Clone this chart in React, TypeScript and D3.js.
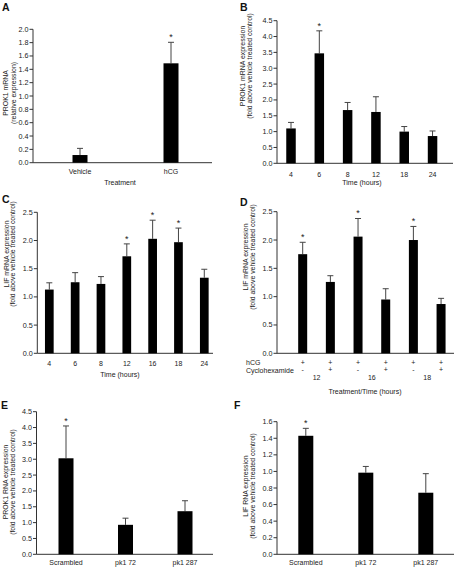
import React from "react";
import * as d3 from "d3";

// ---------- data ----------
const catA = ["Vehicle", "hCG"];
const valA = [0.115, 1.49];
const errA = [0.1, 0.315];
const sigA = [false, true];

const catB = ["4", "6", "8", "12", "18", "24"];
const valB = [1.1, 3.47, 1.68, 1.62, 1.0, 0.86];
const errB = [0.19, 0.71, 0.24, 0.48, 0.16, 0.16];
const sigB = [false, true, false, false, false, false];

const catC = ["4", "6", "8", "12", "16", "18", "24"];
const valC = [1.13, 1.26, 1.23, 1.72, 2.03, 1.97, 1.34];
const errC = [0.12, 0.17, 0.13, 0.22, 0.33, 0.25, 0.15];
const sigC = [false, false, false, true, true, true, false];

const catD = ["d1", "d2", "d3", "d4", "d5", "d6"];
const valD = [1.75, 1.26, 2.06, 0.95, 2.0, 0.87];
const errD = [0.21, 0.11, 0.32, 0.19, 0.24, 0.1];
const sigD = [true, false, true, false, true, false];
const hcgRow = ["+", "+", "+", "+", "+", "+"];
const cycloRow = ["-", "+", "-", "+", "-", "+"];
const timeD = ["12", "16", "18"];

const catE = ["Scrambled", "pk1 72", "pk1 287"];
const valE = [3.03, 0.93, 1.36];
const errE = [1.02, 0.21, 0.33];
const sigE = [true, false, false];

const catF = ["Scrambled", "pk1 72", "pk1 287"];
const valF = [1.43, 0.985, 0.743];
const errF = [0.09, 0.075, 0.23];
const sigF = [true, false, false];

// ---------- layout ----------
type Spec = {
  letter: string; lx: number; ly: number;
  cats: string[]; vals: number[]; errs: number[]; sig: boolean[];
  yMax: number; step: number;
  ax: number; axEnd: number; yTop: number; yBottom: number;
  r0: number; r1: number; bw: number;
  showCats: boolean; catY: number;
  title?: string; titleX: number; titleY: number;
  ylab: string[]; ylx: number[]; ylCy: number;
};

const FONT = "'Liberation Sans', Arial, Helvetica, sans-serif";
const TXT = "#222";

const panels: Spec[] = [
  {
    letter: "A", lx: 2, ly: 6.5, cats: catA, vals: valA, errs: errA, sig: sigA,
    yMax: 2.0, step: 0.2, ax: 33, axEnd: 212, yTop: 29.3, yBottom: 162.7,
    r0: 34.5, r1: 216.5, bw: 15, showCats: true, catY: 171.7,
    title: "Treatment", titleX: 120, titleY: 182,
    ylab: ["PROK1 mRNA", "(relative expression)"], ylx: [5.5, 13], ylCy: 93,
  },
  {
    letter: "B", lx: 240, ly: 6.8, cats: catB, vals: valB, errs: errB, sig: sigB,
    yMax: 4.5, step: 0.5, ax: 277, axEnd: 453, yTop: 20.7, yBottom: 163.3,
    r0: 276.85, r1: 446.7, bw: 9.5, showCats: true, catY: 174,
    title: "Time (hours)", titleX: 362, titleY: 182.7,
    ylab: ["PROK1 mRNA expression", "(fold above vehicle treated control)"], ylx: [242, 249.3], ylCy: 66,
  },
  {
    letter: "C", lx: 2, ly: 198.5, cats: catC, vals: valC, errs: errC, sig: sigC,
    yMax: 2.5, step: 0.5, ax: 37.3, axEnd: 213, yTop: 212.3, yBottom: 353.3,
    r0: 36.4, r1: 217.2, bw: 8.7, showCats: true, catY: 363.5,
    title: "Time (hours)", titleX: 120, titleY: 374,
    ylab: ["LIF mRNA expression", "(fold above vehicle treated control)"], ylx: [6, 12.8], ylCy: 254,
  },
  {
    letter: "D", lx: 240, ly: 201.5, cats: catD, vals: valD, errs: errD, sig: sigD,
    yMax: 2.5, step: 0.5, ax: 277, axEnd: 454, yTop: 211.7, yBottom: 353.3,
    r0: 288.85, r1: 454.9, bw: 9, showCats: false, catY: 0,
    title: "Treatment/Time (hours)", titleX: 365, titleY: 391.7,
    ylab: ["LIF mRNA expression", "(fold above vehicle treated control)"], ylx: [245.3, 252], ylCy: 257,
  },
  {
    letter: "E", lx: 1, ly: 405, cats: catE, vals: valE, errs: errE, sig: sigE,
    yMax: 4.5, step: 0.5, ax: 36.5, axEnd: 213, yTop: 411.7, yBottom: 554.3,
    r0: 36.25, r1: 214.75, bw: 15, showCats: true, catY: 562.7,
    titleX: 0, titleY: 0,
    ylab: ["PROK1 RNA expression", "(fold above vehicle treated control)"], ylx: [5.5, 12.7], ylCy: 482,
  },
  {
    letter: "F", lx: 234, ly: 405, cats: catF, vals: valF, errs: errF, sig: sigF,
    yMax: 1.6, step: 0.2, ax: 277, axEnd: 454, yTop: 421.7, yBottom: 554.3,
    r0: 275.8, r1: 455.8, bw: 15, showCats: true, catY: 562.7,
    titleX: 0, titleY: 0,
    ylab: ["LIF RNA expression", "(fold above vehicle treated control)"], ylx: [245.3, 252], ylCy: 486,
  },
];

function Panel({ p }: { p: Spec }) {
  const y = d3.scaleLinear().domain([0, p.yMax]).range([p.yBottom, p.yTop]);
  const x = d3.scalePoint<string>().domain(p.cats).range([p.r0, p.r1]).padding(0.5);
  const n = Math.round(p.yMax / p.step);
  const ticks = d3.range(0, n + 1).map((i) => i * p.step);
  const fmt = d3.format(".1f");
  const cap = 6;
  return (
    <g>
      <text x={p.lx} y={p.ly} fontSize={10.5} fontWeight="bold" fill="#111" dominantBaseline="central">{p.letter}</text>
      {/* y axis */}
      <line x1={p.ax} x2={p.ax} y1={y(p.yMax)} y2={y(0)} stroke="#333" strokeWidth={1} />
      {ticks.map((t) => (
        <g key={t}>
          <line x1={p.ax - 3.5} x2={p.ax} y1={y(t)} y2={y(t)} stroke="#333" strokeWidth={1} />
          <text x={p.ax - 4.5} y={y(t)} fontSize={7.2} textAnchor="end" dominantBaseline="central" fill={TXT}>{fmt(t)}</text>
        </g>
      ))}
      {/* x axis */}
      <line x1={p.ax} x2={p.axEnd} y1={y(0)} y2={y(0)} stroke="#333" strokeWidth={1} />
      {/* bars */}
      {p.cats.map((c, i) => {
        const cx = x(c)!;
        const top = y(p.vals[i]);
        const et = y(p.vals[i] + p.errs[i]);
        return (
          <g key={c}>
            <line x1={cx} x2={cx} y1={top} y2={et} stroke="#444" strokeWidth={1} />
            <line x1={cx - cap / 2} x2={cx + cap / 2} y1={et} y2={et} stroke="#444" strokeWidth={1} />
            <rect x={cx - p.bw / 2} y={top} width={p.bw} height={y(0) - top} fill="#000" />
            {p.sig[i] && (
              <text x={cx} y={et - 2} fontSize={9} textAnchor="middle" fill={TXT}>*</text>
            )}
            {p.showCats && (
              <text x={cx} y={p.catY} fontSize={7} textAnchor="middle" dominantBaseline="central" fill={TXT}>{c}</text>
            )}
          </g>
        );
      })}
      {p.title && (
        <text x={p.titleX} y={p.titleY} fontSize={7} textAnchor="middle" dominantBaseline="central" fill={TXT}>{p.title}</text>
      )}
      {p.ylab.map((l, i) => (
        <text key={i} transform={`translate(${p.ylx[i]},${p.ylCy}) rotate(-90)`} fontSize={6.9} textAnchor="middle" dominantBaseline="central" fill={TXT}>{l}</text>
      ))}
    </g>
  );
}

function DRows() {
  const p = panels[3];
  const x = d3.scalePoint<string>().domain(p.cats).range([p.r0, p.r1]).padding(0.5);
  return (
    <g fontSize={7} fill={TXT}>
      <text x={246} y={362.3} dominantBaseline="central">hCG</text>
      <text x={246} y={370} dominantBaseline="central">Cyclohexamide</text>
      {p.cats.map((c, i) => (
        <g key={c}>
          <text x={x(c)!} y={362.3} textAnchor="middle" dominantBaseline="central">{hcgRow[i]}</text>
          <text x={x(c)!} y={369.8} textAnchor="middle" dominantBaseline="central">{cycloRow[i]}</text>
        </g>
      ))}
      {timeD.map((t, j) => {
        const a = x(p.cats[2 * j])!;
        const b = x(p.cats[2 * j + 1])!;
        return (
          <text key={t} x={(a + b) / 2} y={377.7} textAnchor="middle" dominantBaseline="central">{t}</text>
        );
      })}
    </g>
  );
}

export default function App() {
  return (
    <svg width={454} height={567} style={{ position: "absolute", left: 0, top: 0, background: "#fff" }} fontFamily={FONT}>
      <rect x={0} y={0} width={454} height={567} fill="#fff" />
      {panels.map((p) => (
        <Panel key={p.letter} p={p} />
      ))}
      <DRows />
    </svg>
  );
}
